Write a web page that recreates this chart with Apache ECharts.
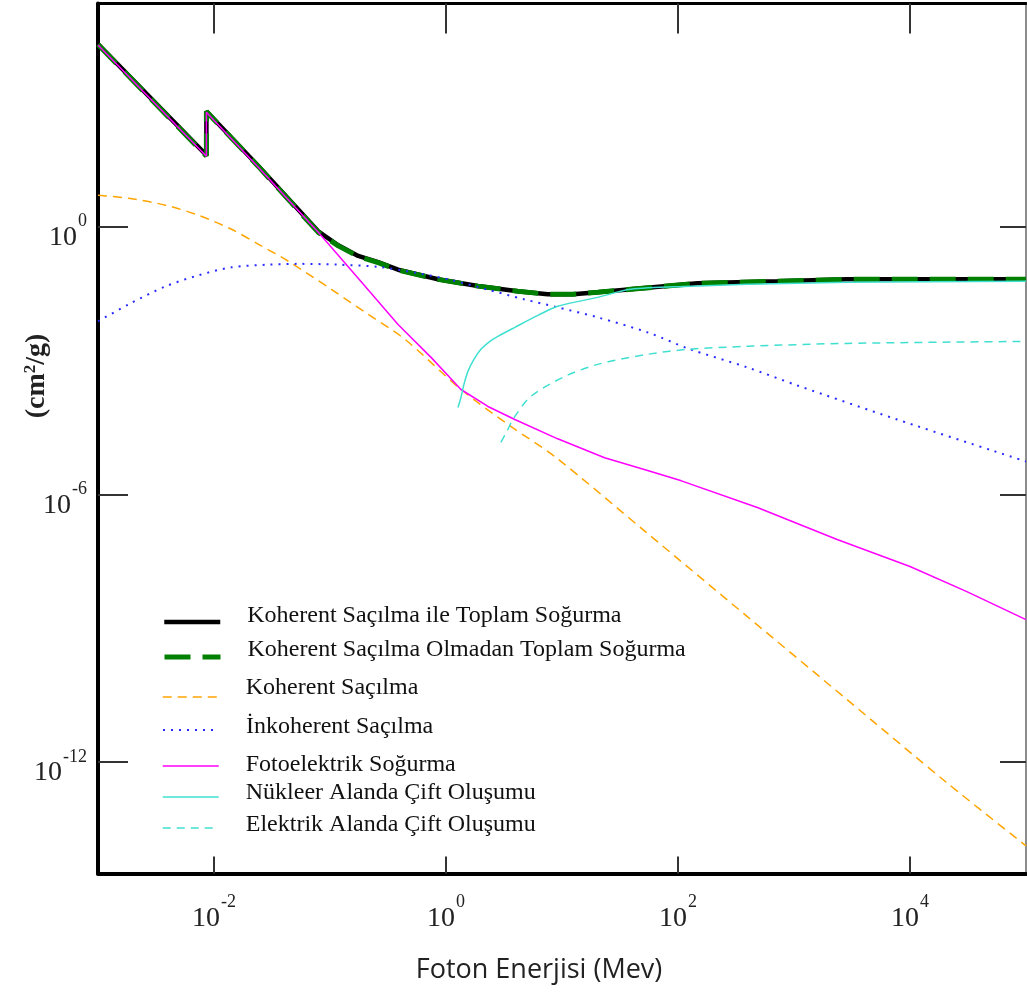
<!DOCTYPE html>
<html>
<head>
<meta charset="utf-8">
<script src="https://cdn.jsdelivr.net/npm/echarts@6/dist/echarts.min.js"></script>
<style>
  html, body { margin: 0; background: #fff; }
  #chart { width: 1027px; height: 992px; }
</style>
</head>
<body>
<div id="chart"></div>
<script>
// series names (legend order)
const names = [
  'Koherent Saçılma ile Toplam Soğurma',
  'Koherent Saçılma Olmadan Toplam Soğurma',
  'Koherent Saçılma',
  'İnkoherent Saçılma',
  'Fotoelektrik Soğurma',
  'Nükleer Alanda Çift Oluşumu',
  'Elektrik Alanda Çift Oluşumu'
];

// photon energy (MeV) and attenuation (cm2/g)
const energyTotal = [0.001, 0.0086, 0.0086, 0.0241, 0.0792, 0.1178, 0.175, 0.26, 0.386, 0.853, 1.88, 4.16, 7.54, 12.4, 20.3, 39.0, 147, 718, 2870, 100000];
const totalWithCoh = [1.23e4, 40, 384, 22.7, 0.78, 0.381, 0.22, 0.160, 0.108, 0.066, 0.0465, 0.0354, 0.0303, 0.0303, 0.0336, 0.0392, 0.0535, 0.0593, 0.0658, 0.0658];
const totalNoCoh = [1.2e4, 38, 380, 22.3, 0.74, 0.37, 0.214, 0.156, 0.106, 0.0655, 0.0463, 0.0354, 0.0303, 0.0303, 0.0336, 0.0392, 0.0535, 0.0593, 0.0658, 0.0658];

const energyCoh = [0.001, 0.00184, 0.00383, 0.00736, 0.01415, 0.0242, 0.0437, 0.1026, 0.213, 0.443, 1.346, 3.62, 8.66, 54.7, 396, 2871, 20800, 100000];
const coherent = [5.04, 4.31, 3.01, 1.79, 0.869, 0.401, 0.167, 0.0392, 0.0108, 2.96e-3, 2.24e-4, 3.31e-5, 7.03e-6, 1.32e-7, 1.81e-9, 2.49e-11, 3.42e-13, 1.32e-14];

const energyIncoh = [0.001, 0.00184, 0.00383, 0.00736, 0.01415, 0.0294, 0.0533, 0.1178, 0.26, 0.574, 1.149, 2.30, 4.78, 9.18, 20.3, 54.7, 128, 396, 1067, 7730, 100000];
const incoherent = [7.51e-3, 0.0181, 0.0458, 0.0809, 0.122, 0.140, 0.146, 0.140, 0.125, 0.090, 0.062, 0.0385, 0.0232, 0.0155, 9.23e-3, 4.25e-3, 1.77e-3, 6.98e-4, 2.75e-4, 4.75e-5, 5.43e-6];

const energyPhoto = [0.001, 0.0086, 0.0086, 0.0241, 0.0792, 0.175, 0.386, 0.743, 1.346, 2.30, 3.92, 9.18, 23.3, 54.7, 107, 483, 2354, 10000, 30900, 100000];
const photo = [1.17e4, 37.7, 366, 21.4, 0.743, 0.0692, 6.41e-3, 1.17e-3, 2.23e-4, 9.28e-5, 4.75e-5, 1.75e-5, 6.6e-6, 3.4e-6, 2.0e-6, 5.05e-7, 9.67e-8, 2.40e-8, 6.59e-9, 1.55e-9];

const energyNuc = [1.268, 1.346, 1.428, 1.546, 1.741, 2.00, 2.39, 2.80, 3.92, 6.19, 9.18, 20.3, 39.0, 128, 396, 2871, 100000];
const nuclearPair = [8.85e-5, 1.48e-4, 2.90e-4, 5.68e-4, 1.05e-3, 1.77e-3, 2.67e-3, 3.46e-3, 5.51e-3, 0.0102, 0.0163, 0.0259, 0.0392, 0.0458, 0.0508, 0.0563, 0.0593];

const energyEl = [2.97, 3.35, 3.77, 5.38, 10.6, 20.3, 54.7, 121, 396, 2871, 100000];
const electronPair = [1.45e-5, 2.56e-5, 4.75e-5, 1.56e-4, 4.38e-4, 8.15e-4, 1.37e-3, 1.77e-3, 2.07e-3, 2.41e-3, 2.67e-3];

// tick positions as powers of ten
const xTickExp = [-2, 0, 2, 4];
const yTickExp = [-12, -6, 0];

const pairs = (xs, ys) => xs.map((x, i) => [x, ys[i]]);
const serif = 'Liberation Serif';

const styles = [
  { color: '#000000', width: 4.5, type: 'solid' },
  { color: '#008000', width: 5, type: [26, 12] },
  { color: '#ffa500', width: 1.5, type: [9, 6] },
  { color: '#2a2aff', width: 2, type: [2, 6] },
  { color: '#ff00ff', width: 1.5, type: 'solid' },
  { color: '#40e0d0', width: 1.5, type: 'solid' },
  { color: '#40e0d0', width: 1.5, type: [8, 6] }
];
const seriesData = [
  pairs(energyTotal, totalWithCoh),
  pairs(energyTotal, totalNoCoh),
  pairs(energyCoh, coherent),
  pairs(energyIncoh, incoherent),
  pairs(energyPhoto, photo),
  pairs(energyNuc, nuclearPair),
  pairs(energyEl, electronPair)
];
const smoothOn = [false, false, 0.3, 0.3, false, 0.3, 0.3];

// legend rows: line y and how far the text sits above the line
const legendLineY = [622, 657, 697, 730, 766, 797, 828];
const legendLift = [6, 7, 9, 3, 1, 4, 3];

const expRich = {
  b: { fontFamily: serif, fontSize: 28, lineHeight: 28, color: '#222', padding: [22, 0, 0, 0] },
  s: { fontFamily: serif, fontSize: 18, lineHeight: 18, color: '#222', padding: [0, 0, 10, 1] }
};
const expLabel = v => '{b|10}{s|' + v + '}';

const chart = echarts.init(document.getElementById('chart'));
chart.setOption({
  animation: false,
  backgroundColor: '#fff',
  grid: { left: 98, top: 3.5, width: 928, height: 870, containLabel: false, outerBoundsMode: 'none' },
  xAxis: [
    { type: 'log', min: 1e-3, max: 1e5, position: 'bottom',
      axisLine: { onZero: false, lineStyle: { color: '#000', width: 4 } },
      axisTick: { show: false }, axisLabel: { show: false }, splitLine: { show: false }, minorTick: { show: false } },
    { type: 'value', min: -3, max: 5, position: 'bottom',
      axisLine: { show: false, onZero: false },
      axisTick: { inside: true, length: 17, customValues: xTickExp, lineStyle: { color: '#333', width: 2 } },
      axisLabel: { customValues: xTickExp, margin: 20, formatter: expLabel, rich: expRich },
      splitLine: { show: false } },
    { type: 'value', min: -3, max: 5, position: 'top',
      axisLine: { onZero: false, lineStyle: { color: '#000', width: 3 } },
      axisTick: { inside: true, length: 30, customValues: xTickExp, lineStyle: { color: '#333', width: 2 } },
      axisLabel: { show: false }, splitLine: { show: false } }
  ],
  yAxis: [
    { type: 'log', min: Math.pow(10, -14.5), max: 1e5, position: 'left',
      axisLine: { onZero: false, lineStyle: { color: '#000', width: 4 } },
      axisTick: { show: false }, axisLabel: { show: false }, splitLine: { show: false }, minorTick: { show: false } },
    { type: 'value', min: -14.5, max: 5, position: 'left',
      axisLine: { show: false, onZero: false },
      axisTick: { inside: true, length: 30, customValues: yTickExp, lineStyle: { color: '#333', width: 2 } },
      axisLabel: { customValues: yTickExp, margin: 11, formatter: expLabel, rich: expRich },
      splitLine: { show: false } },
    { type: 'value', min: -14.5, max: 5, position: 'right',
      axisLine: { onZero: false, lineStyle: { color: '#666', width: 1.5 } },
      axisTick: { inside: true, length: 26, customValues: yTickExp, lineStyle: { color: '#333', width: 2 } },
      axisLabel: { show: false }, splitLine: { show: false } }
  ],
  legend: names.map((name, i) => ({
    data: [name],
    selectedMode: false,
    orient: 'vertical',
    left: 162,
    top: legendLineY[i] - 12 - legendLift[i],
    padding: 0,
    itemWidth: 56,
    itemHeight: 24,
    itemStyle: { opacity: 0 },
    lineStyle: { width: styles[i].width },
    formatter: '{t|{name}}',
    textStyle: {
      rich: { t: { fontFamily: serif, fontSize: 24, lineHeight: 24, color: '#111',
        padding: [0, 0, 2 * legendLift[i], 22] } }
    }
  })),
  graphic: [
    { type: 'text', x: 37, y: 376, rotation: Math.PI / 2,
      style: { text: '(cm{s|2}/g)', fontFamily: serif, fontSize: 28, fontWeight: 'bold', fill: '#222',
        textAlign: 'center', textVerticalAlign: 'middle',
        rich: { s: { fontFamily: serif, fontSize: 17, fontWeight: 'bold', fill: '#222', padding: [0, 0, 12, 0] } } } },
    { type: 'text', x: 539, y: 970,
      style: { text: 'Foton Enerjisi (Mev)', fontFamily: 'Open Sans', fontSize: 27, fill: '#222',
        textAlign: 'center', textVerticalAlign: 'middle' } }
  ],
  series: names.map((name, i) => ({
    name: name,
    type: 'line',
    xAxisIndex: 0,
    yAxisIndex: 0,
    data: seriesData[i],
    symbol: 'none',
    smooth: smoothOn[i],
    color: styles[i].color,
    lineStyle: { color: styles[i].color, width: styles[i].width, type: styles[i].type }
  }))
});
</script>
</body>
</html>
